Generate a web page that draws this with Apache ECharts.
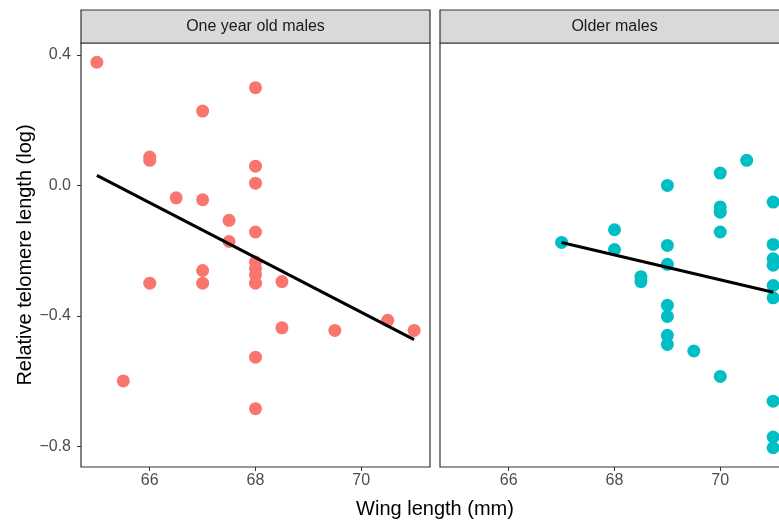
<!DOCTYPE html>
<html>
<head>
<meta charset="utf-8">
<style>
  html, body { margin: 0; padding: 0; background: #ffffff; }
  #chart { width: 779px; height: 522px; }
</style>
<script src="https://cdn.jsdelivr.net/npm/echarts@6/dist/echarts.min.js"></script>
</head>
<body>
<div id="chart"></div>
<script>
// Panel titles
const panelTitles = ['One year old males', 'Older males'];

// One year old males: wing length (mm) and relative telomere length (log)
const youngWing = [65, 68, 67, 66, 66, 68, 68, 66.5, 67, 67.5, 68, 67.5, 67, 66, 67,
                   68, 68, 68, 68, 68.5, 68.5, 69.5, 70.5, 71, 68, 65.5, 68];
const youngTelomere = [0.378, 0.30, 0.228, 0.087, 0.077, 0.059, 0.007, -0.038, -0.044, -0.107,
                       -0.143, -0.172, -0.261, -0.30, -0.30, -0.235, -0.255, -0.275, -0.30,
                       -0.295, -0.437, -0.445, -0.414, -0.445, -0.527, -0.60, -0.685];

// Older males
const olderWing = [67, 68, 68, 69, 70, 70.5, 70, 70, 70, 71, 69, 71, 69, 68.5, 68.5,
                   71, 71, 71, 71, 69, 69, 69, 69, 69.5, 70, 71, 71, 71];
const olderTelomere = [-0.175, -0.136, -0.197, 0.0, 0.038, 0.077, -0.066, -0.082, -0.143,
                       -0.051, -0.184, -0.181, -0.242, -0.28, -0.295, -0.225, -0.245, -0.307,
                       -0.345, -0.368, -0.402, -0.46, -0.488, -0.508, -0.586, -0.662, -0.772, -0.805];

// Fitted linear trends (start and end of each line)
const youngFitWing = [65, 71];
const youngFitTelomere = [0.031, -0.473];
const olderFitWing = [67, 71];
const olderFitTelomere = [-0.175, -0.328];

// Tick values and labels
const xTicks = [66, 68, 70];
const yTicks = [-0.8, -0.4, 0.0, 0.4];
const yTickLabels = ['\u22120.8', '\u22120.4', '0.0', '0.4'];

const zip = (a, b) => a.map((v, i) => [v, b[i]]);

const chart = echarts.init(document.getElementById('chart'), null, { renderer: 'canvas' });

const FONT = 'Liberation Sans, Arial, sans-serif';
const panelTop = 43, panelHeight = 424, panelWidth = 349;
const panelLefts = [81, 440];

const xAxisBase = (gridIndex) => ({
  type: 'value',
  gridIndex,
  min: 64.7,
  max: 71.3,
  splitLine: { show: false },
  axisLine: { show: false, onZero: false },
  axisTick: { show: true, length: 4, customValues: xTicks, lineStyle: { color: '#333333', width: 1 } },
  axisLabel: {
    customValues: xTicks,
    color: '#4D4D4D', fontSize: 16, fontFamily: FONT, margin: 6,
    formatter: (v) => String(v)
  }
});

const yAxisBase = (gridIndex, showLabels) => ({
  type: 'value',
  gridIndex,
  min: -0.864,
  max: 0.437,
  splitLine: { show: false },
  axisLine: { show: false, onZero: false },
  axisTick: { show: showLabels, length: 4, customValues: yTicks, lineStyle: { color: '#333333', width: 1 } },
  axisLabel: {
    show: showLabels,
    customValues: yTicks,
    color: '#4D4D4D', fontSize: 16, fontFamily: FONT, margin: 10,
    formatter: (v) => {
      const i = yTicks.findIndex(t => Math.abs(t - v) < 1e-9);
      return i >= 0 ? yTickLabels[i] : '';
    }
  }
});

const option = {
  animation: false,
  backgroundColor: '#ffffff',
  grid: panelLefts.map(left => ({
    left, top: panelTop, width: panelWidth, height: panelHeight,
    show: true, borderColor: '#333333', borderWidth: 1.2, backgroundColor: '#ffffff',
    outerBoundsMode: 'none',
    containLabel: false
  })),
  xAxis: [xAxisBase(0), xAxisBase(1)],
  yAxis: [
    Object.assign(yAxisBase(0, true), {
      name: 'Relative telomere length (log)',
      nameLocation: 'middle',
      nameRotate: 90,
      nameGap: 46,
      nameTextStyle: { color: '#000000', fontSize: 20, fontFamily: FONT }
    }),
    yAxisBase(1, false)
  ],
  graphic: [
    ...panelLefts.map((left, i) => ({
      type: 'group',
      silent: true,
      children: [
        {
          type: 'rect',
          shape: { x: left, y: 10, width: panelWidth, height: 33 },
          style: { fill: '#D9D9D9', stroke: '#333333', lineWidth: 1.2 }
        },
        {
          type: 'text',
          x: left + panelWidth / 2, y: 27,
          style: {
            text: panelTitles[i], fill: '#1A1A1A', fontSize: 16, fontFamily: FONT,
            align: 'center', verticalAlign: 'middle'
          }
        }
      ]
    })),
    {
      type: 'text',
      silent: true,
      x: 435, y: 509,
      style: {
        text: 'Wing length (mm)', fill: '#000000', fontSize: 20, fontFamily: FONT,
        align: 'center', verticalAlign: 'middle'
      }
    }
  ],
  series: [
    {
      type: 'scatter', xAxisIndex: 0, yAxisIndex: 0,
      data: zip(youngWing, youngTelomere),
      symbolSize: 13,
      itemStyle: { color: '#F8766D', opacity: 1 },
      z: 2
    },
    {
      type: 'line', xAxisIndex: 0, yAxisIndex: 0,
      data: zip(youngFitWing, youngFitTelomere),
      showSymbol: false, symbol: 'none',
      lineStyle: { color: '#000000', width: 3 },
      z: 3
    },
    {
      type: 'scatter', xAxisIndex: 1, yAxisIndex: 1,
      data: zip(olderWing, olderTelomere),
      symbolSize: 13,
      itemStyle: { color: '#00BFC4', opacity: 1 },
      z: 2
    },
    {
      type: 'line', xAxisIndex: 1, yAxisIndex: 1,
      data: zip(olderFitWing, olderFitTelomere),
      showSymbol: false, symbol: 'none',
      lineStyle: { color: '#000000', width: 3 },
      z: 3
    }
  ]
};

chart.setOption(option);
</script>
</body>
</html>
